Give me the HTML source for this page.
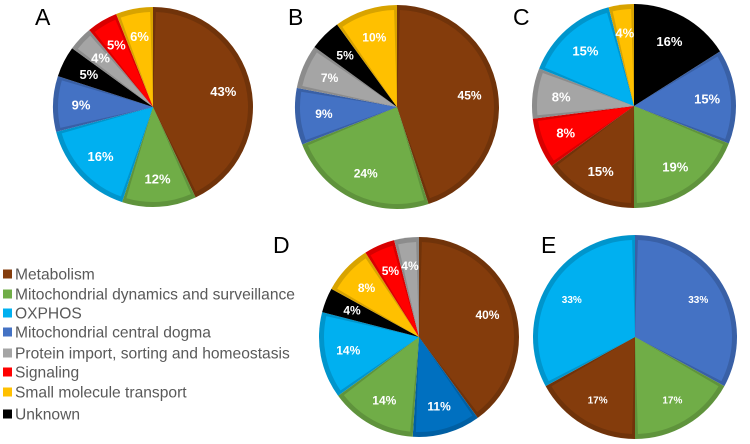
<!DOCTYPE html>
<html><head><meta charset="utf-8"><style>
body{margin:0;background:#fff;width:750px;height:444px;overflow:hidden;font-family:"Liberation Sans",sans-serif}
svg{position:absolute;left:0;top:0}
</style></head><body>
<svg id="chart" width="750" height="444"></svg>
<script>
const categories=["Metabolism","Mitochondrial dynamics and surveillance","OXPHOS","Mitochondrial central dogma","Protein import, sorting and homeostasis","Signaling","Small molecule transport","Unknown"];
const catColors={"Metabolism":"#843c0c","Mitochondrial dynamics and surveillance":"#70ad47","OXPHOS":"#00b0f0","Mitochondrial central dogma":"#4472c4","Protein import, sorting and homeostasis":"#a5a5a5","Signaling":"#ff0000","Small molecule transport":"#ffc000","Unknown":"#000000"};
// per-panel slice order (clockwise from 12 o'clock) and values
const catsA=["Metabolism","Mitochondrial dynamics and surveillance","OXPHOS","Mitochondrial central dogma","Unknown","Protein import, sorting and homeostasis","Signaling","Small molecule transport"];
const valsA=[43,12,16,9,5,4,5,6];
const catsB=["Metabolism","Mitochondrial dynamics and surveillance","Mitochondrial central dogma","Protein import, sorting and homeostasis","Unknown","Small molecule transport"];
const valsB=[45,24,9,7,5,10];
const catsC=["Unknown","Mitochondrial central dogma","Mitochondrial dynamics and surveillance","Metabolism","Signaling","Protein import, sorting and homeostasis","OXPHOS","Small molecule transport"];
const valsC=[16,15,19,15,8,8,15,4];
const catsD=["Metabolism","Mitochondrial central dogma","Mitochondrial dynamics and surveillance","OXPHOS","Unknown","Small molecule transport","Signaling","Protein import, sorting and homeostasis"];
const valsD=[40,11,14,14,4,8,5,4];
const catsE=["Mitochondrial central dogma","Mitochondrial dynamics and surveillance","Metabolism","OXPHOS"];
const valsE=[33,17,17,33];
const panelLetters=["A","B","C","D","E"];

const NS="http://www.w3.org/2000/svg";
const svg=document.getElementById('chart');
function mk(t,a,p){const e=document.createElementNS(NS,t);for(const k in a)e.setAttribute(k,a[k]);(p||svg).appendChild(e);return e;}
function darken(h,f){const n=parseInt(h.slice(1),16);let r=(n>>16)*f,g=((n>>8)&255)*f,b=(n&255)*f;return `rgb(${r|0},${g|0},${b|0})`;}
function pt(cx,cy,r,a){return [cx+r*Math.sin(a),cy-r*Math.cos(a)];}
function arc(cx,cy,r,a0,a1){const p0=pt(cx,cy,r,a0),p1=pt(cx,cy,r,a1);const lg=(a1-a0)>Math.PI?1:0;return `M${cx},${cy}L${p0[0]},${p0[1]}A${r},${r} 0 ${lg} 1 ${p1[0]},${p1[1]}Z`;}
function pie(name,cx,cy,r,cats,vals,fs,overrides){
  const g=mk('g',{});
  
  
  const tot=vals.reduce((a,b)=>a+b,0);let a=0;
  vals.forEach((v,i)=>{
    const a1=a+v/tot*2*Math.PI;
    let col=catColors[cats[i]];
    if(overrides&&overrides[cats[i]])col=overrides[cats[i]];
    const p=mk('path',{d:arc(cx,cy,r,a,a1),fill:darken(col,0.85),stroke:'none'},g);
    
    
    mk('path',{d:arc(cx,cy,r-5,a+0.03,a1-0.03),fill:col},g);
    const m=(a+a1)/2,lp=pt(cx,cy,r*0.72,m);
    const t=mk('text',{x:lp[0],y:lp[1]+fs*0.35,'text-anchor':'middle','font-size':fs,'font-weight':'bold',fill:'#fff'},g);
    t.textContent=v+'%';
    
    
    a=a1;
  });
}
pie('pie-a',153,107,100,catsA,valsA,13);
pie('pie-b',397,107,102,catsB,valsB,12);
pie('pie-c',634,106,102,catsC,valsC,13);
pie('pie-d',419,337,100,catsD,valsD,12,{"Mitochondrial central dogma":"#0070c0"});
pie('pie-e',635,337,102,catsE,valsE,10);
const letterPos=[[35,25],[288,25],[513,25],[273,253],[541,253]];
panelLetters.forEach((L,i)=>{const t=mk('text',{x:letterPos[i][0],y:letterPos[i][1],'font-size':23,fill:'#000'});t.textContent=L;

});
const legY=[274,294,313,332,353,372,392,414];
const lg=mk('g',{});


categories.forEach((c,i)=>{
  const e=mk('g',{},lg);
  
  
  mk('rect',{x:3,y:legY[i]-4.5,width:9,height:9,fill:catColors[c]},e);
  const t=mk('text',{x:15,y:legY[i]+5.5,'font-size':15.6,fill:'#595959'},e);t.textContent=c;
});
</script>
</body></html>
